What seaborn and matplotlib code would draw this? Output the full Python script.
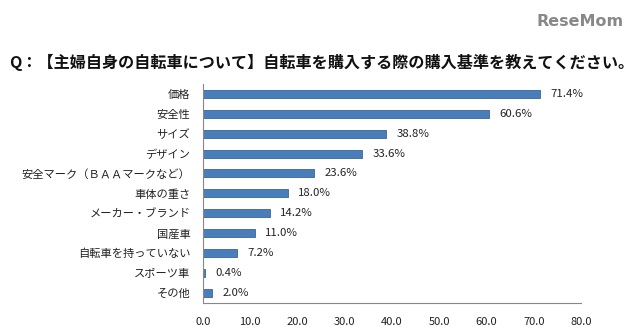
import matplotlib
matplotlib.use("Agg")
import matplotlib.pyplot as plt
import seaborn as sns
import pandas as pd
import numpy as np

categories = ["価格", "安全性", "サイズ", "デザイン", "安全マーク（ＢＡＡマークなど）",
              "車体の重さ", "メーカー・ブランド", "国産車", "自転車を持っていない",
              "スポーツ車", "その他"]
values = [71.4, 60.6, 38.8, 33.6, 23.6, 18.0, 14.2, 11.0, 7.2, 0.4, 2.0]
xticks = [0, 10, 20, 30, 40, 50, 60, 70, 80]
title = "Q：【主婦自身の自転車について】自転車を購入する際の購入基準を教えてください。"

sns.set_theme(style="white")
plt.rcParams['font.family'] = ['Noto Sans CJK JP', 'DejaVu Sans']

df = pd.DataFrame({"cat": categories, "val": values})

fig = plt.figure(figsize=(6.4, 3.27), dpi=100)
ax = fig.add_axes([0.317, 0.073, 0.591, 0.671])
sns.barplot(data=df, x="val", y="cat", ax=ax, color="#4a7ebb", width=0.4,
            edgecolor="#3a6496", linewidth=0.6, saturation=1)

ax.set_xlim(0, 80)
ax.set_ylim(len(categories) - 0.5, -0.5)
ax.set_xticks(xticks)
ax.set_xticklabels([f"{v:.1f}" for v in xticks], fontsize=8, color="#222222")
ax.set_yticks(range(len(categories)))
ax.set_yticklabels(categories, fontsize=8.1, color="#222222")
ax.set_xlabel("")
ax.set_ylabel("")

# Excel-style tick marks between categories
ax.set_yticks(np.arange(-0.5, len(categories), 1), minor=True)
ax.tick_params(axis="y", which="major", length=0, pad=9)
ax.tick_params(axis="y", which="minor", length=4, width=0.8, color="#888888", direction="out")
ax.tick_params(axis="x", which="major", length=4, width=0.8, color="#888888", direction="out", pad=6)

for s in ["top", "right"]:
    ax.spines[s].set_visible(False)
for s in ["left", "bottom"]:
    ax.spines[s].set_color("#888888")
    ax.spines[s].set_linewidth(0.8)

for i, v in enumerate(values):
    ax.text(v + 2.2, i, f"{v:.1f}%", va="center", ha="left", fontsize=8.2, color="#222222")

fig.text(0.015, 0.81, title, fontsize=11.6, fontweight="bold", color="#111111",
         ha="left", va="center")
fig.text(0.975, 0.935, "ReseMom", fontsize=11.5, fontweight="bold", color="#888888",
         ha="right", va="center", family=["DejaVu Sans"])

fig.savefig("out.png", dpi=100)
